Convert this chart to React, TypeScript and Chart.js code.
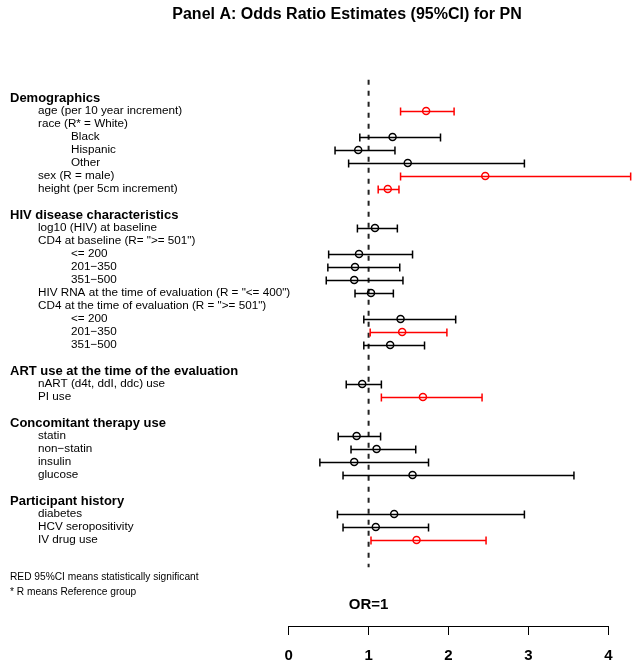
import { useEffect, useRef } from "react";
import { Chart, registerables } from "chart.js";

Chart.register(...registerables);

// ---- data ----
const titleText = "Panel A: Odds Ratio Estimates (95%CI) for PN";
const rowLabels: string[] = [
  "Demographics",
  "age (per 10 year increment)",
  "race (R* = White)",
  "Black",
  "Hispanic",
  "Other",
  "sex (R = male)",
  "height (per 5cm increment)",
  "",
  "HIV disease characteristics",
  "log10 (HIV) at baseline",
  'CD4 at baseline (R= ">= 501")',
  "<= 200",
  "201\u2212350",
  "351\u2212500",
  'HIV RNA at the time of evaluation (R = "<= 400")',
  'CD4 at the time of evaluation (R = ">= 501")',
  "<= 200",
  "201\u2212350",
  "351\u2212500",
  "",
  "ART use at the time of the evaluation",
  "nART (d4t, ddI, ddc) use",
  "PI use",
  "",
  "Concomitant therapy use",
  "statin",
  "non\u2212statin",
  "insulin",
  "glucose",
  "",
  "Participant history",
  "diabetes",
  "HCV seropositivity",
  "IV drug use",
];
// 0 = section header, 1 = item, 2 = sub-item, -1 = blank
const rowLevels: number[] = [
  0, 1, 1, 2, 2, 2, 1, 1, -1,
  0, 1, 1, 2, 2, 2, 1, 1, 2, 2, 2, -1,
  0, 1, 1, -1,
  0, 1, 1, 1, 1, -1,
  0, 1, 1, 1,
];
const oddsRatio: (number | null)[] = [
  null, 1.72, null, 1.30, 0.87, 1.49, 2.46, 1.24, null,
  null, 1.08, null, 0.88, 0.83, 0.82, 1.03, null, 1.40, 1.42, 1.27, null,
  null, 0.92, 1.68, null,
  null, 0.85, 1.10, 0.82, 1.55, null,
  null, 1.32, 1.09, 1.60,
];
const ciLower: (number | null)[] = [
  null, 1.40, null, 0.89, 0.58, 0.75, 1.40, 1.12, null,
  null, 0.86, null, 0.50, 0.49, 0.47, 0.83, null, 0.94, 1.02, 0.94, null,
  null, 0.72, 1.16, null,
  null, 0.62, 0.78, 0.39, 0.68, null,
  null, 0.61, 0.68, 1.03,
];
const ciUpper: (number | null)[] = [
  null, 2.07, null, 1.90, 1.33, 2.95, 4.28, 1.38, null,
  null, 1.36, null, 1.55, 1.39, 1.43, 1.31, null, 2.09, 1.98, 1.70, null,
  null, 1.16, 2.42, null,
  null, 1.15, 1.59, 1.75, 3.57, null,
  null, 2.95, 1.75, 2.47,
];
const significant: boolean[] = [
  false, true, false, false, false, false, true, true, false,
  false, false, false, false, false, false, false, false, false, true, false, false,
  false, false, true, false,
  false, false, false, false, false, false,
  false, false, false, true,
];
const xTicks = [0, 1, 2, 3, 4];
const footnotes = ["RED 95%CI means statistically significant", "* R means Reference group"];
const refLabel = "OR=1";

const RED = "#ff0000";
const BLACK = "#000000";
const FONT = "'Liberation Sans', Arial, sans-serif";

const forestPlugin = {
  id: "forestDecor",
  beforeDatasetsDraw(chart: any) {
    const { ctx, scales } = chart;
    const xs = scales.x;
    const ys = scales.y;
    ctx.save();
    // reference dashed line at OR = 1
    ctx.strokeStyle = "#222";
    ctx.lineWidth = 2;
    ctx.setLineDash([5, 6]);
    const xr = xs.getPixelForValue(1);
    ctx.beginPath();
    ctx.moveTo(xr, ys.getPixelForValue(-1.4));
    ctx.lineTo(xr, ys.getPixelForValue(36.1));
    ctx.stroke();
    ctx.setLineDash([]);
    // CI bars
    ctx.lineWidth = 1.5;
    for (let i = 0; i < rowLabels.length; i++) {
      const lo = ciLower[i];
      const hi = ciUpper[i];
      if (lo == null || hi == null) continue;
      const y = Math.round(ys.getPixelForValue(i)) + 0.5;
      const x1 = xs.getPixelForValue(lo);
      const x2 = xs.getPixelForValue(hi);
      ctx.strokeStyle = significant[i] ? RED : BLACK;
      ctx.beginPath();
      ctx.moveTo(x1, y);
      ctx.lineTo(x2, y);
      ctx.moveTo(x1, y - 4);
      ctx.lineTo(x1, y + 4);
      ctx.moveTo(x2, y - 4);
      ctx.lineTo(x2, y + 4);
      ctx.stroke();
    }
    ctx.restore();
  },
  afterDraw(chart: any) {
    const { ctx, scales } = chart;
    const ys = scales.y;
    const xs = scales.x;
    ctx.save();
    ctx.fillStyle = "#000";
    ctx.textBaseline = "middle";
    // title
    ctx.textAlign = "center";
    ctx.font = `bold 16px ${FONT}`;
    ctx.fillText(titleText, 347, 15);
    // row labels
    ctx.textAlign = "left";
    const indents = [10, 38, 71];
    for (let i = 0; i < rowLabels.length; i++) {
      const lvl = rowLevels[i];
      if (lvl < 0) continue;
      ctx.font = lvl === 0 ? `bold 13px ${FONT}` : `11.7px ${FONT}`;
      ctx.fillText(rowLabels[i], indents[lvl], ys.getPixelForValue(i));
    }
    // footnotes
    ctx.font = `10.2px ${FONT}`;
    ctx.fillText(footnotes[0], 10, 577);
    ctx.fillText(footnotes[1], 10, 592);
    // OR=1 label
    ctx.textAlign = "center";
    ctx.font = `bold 15px ${FONT}`;
    ctx.fillText(refLabel, xs.getPixelForValue(1), 604.5);
    ctx.restore();
  },
};

export default function App() {
  const canvasRef = useRef<HTMLCanvasElement | null>(null);

  useEffect(() => {
    if (!canvasRef.current) return;
    const pts: { x: number; y: number }[] = [];
    const colors: string[] = [];
    for (let i = 0; i < rowLabels.length; i++) {
      const v = oddsRatio[i];
      if (v == null) continue;
      pts.push({ x: v, y: i });
      colors.push(significant[i] ? RED : BLACK);
    }
    const chart = new Chart(canvasRef.current, {
      type: "scatter",
      data: {
        datasets: [
          {
            label: "OR",
            data: pts,
            pointRadius: 3.5,
            pointHoverRadius: 3.5,
            pointBorderWidth: 1.5,
            pointBorderColor: colors,
            pointBackgroundColor: "rgba(0,0,0,0)",
          },
        ],
      },
      options: {
        animation: false,
        responsive: true,
        maintainAspectRatio: false,
        events: [],
        layout: { padding: { left: 288.7, right: 30.7, top: 78.5, bottom: 0 } },
        plugins: { legend: { display: false }, title: { display: false }, tooltip: { enabled: false } },
        scales: {
          x: {
            type: "linear",
            min: 0,
            max: 4,
            afterBuildTicks: (axis: any) => {
              axis.ticks = xTicks.map((v) => ({ value: v }));
            },
            afterFit: (axis: any) => {
              axis.height = 41;
            },
            grid: { display: true, drawOnChartArea: false, drawTicks: true, tickLength: 9, color: BLACK, lineWidth: 1 },
            border: { display: true, color: BLACK, width: 1 },
            ticks: { color: BLACK, font: { family: FONT, size: 15, weight: "bold" }, padding: 12, maxRotation: 0 },
          },
          y: {
            type: "linear",
            min: -1.5,
            max: 40.615,
            reverse: true,
            display: false,
          },
        },
      },
      plugins: [forestPlugin],
    });
    return () => chart.destroy();
  }, []);

  return (
    <div style={{ position: "fixed", left: 0, top: 0, width: 639, height: 667, background: "#fff" }}>
      <canvas ref={canvasRef} />
    </div>
  );
}
